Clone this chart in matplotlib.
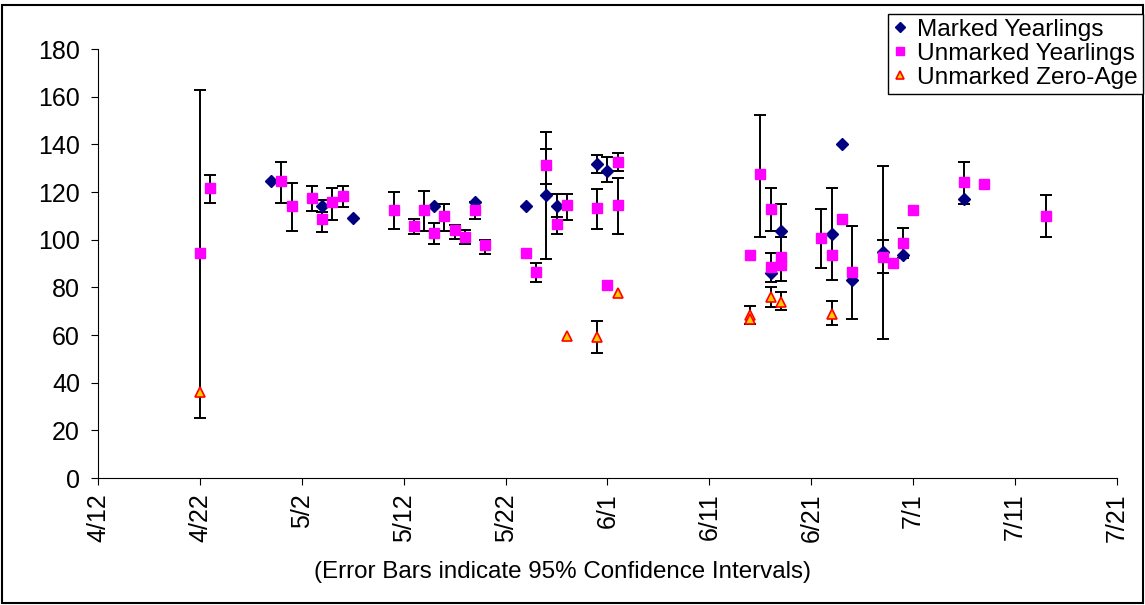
import numpy as np
import pandas as pd
import matplotlib
matplotlib.use("Agg")
import matplotlib.pyplot as plt
from matplotlib.patches import Rectangle

nan = np.nan

# Marked Yearlings
marked_dates = ['4/29', '5/4', '5/7', '5/15', '5/19', '5/24', '5/26', '5/27', '5/31', '6/1',
                '6/17', '6/18', '6/23', '6/24', '6/25', '6/28', '6/30', '7/6']
marked_vals = [124.5, 114, 109, 114, 116, 114, 118.6, 114, 131.6, 129,
               86, 103.6, 102.4, 140, 83, 95, 93.6, 117]
marked_lo = [nan, 111.5, nan, nan, nan, nan, 92, 109.7, 128, 124,
             82.4, 101, 83, nan, 66.7, 58.2, nan, nan]
marked_hi = [nan, 116.5, nan, nan, nan, nan, 138, 119.2, 135.5, 134.6,
             94.5, 114.8, 121.8, nan, 105.6, 130.9, nan, nan]

# Unmarked Yearlings
unmarked_dates = ['4/22', '4/23', '4/30', '5/1', '5/3', '5/4', '5/5', '5/6', '5/11', '5/13',
                  '5/14', '5/15', '5/16', '5/17', '5/18', '5/19', '5/20', '5/24', '5/25', '5/26',
                  '5/27', '5/28', '5/31', '6/1', '6/2', '6/2', '6/15', '6/16', '6/17', '6/17',
                  '6/18', '6/18', '6/22', '6/23', '6/24', '6/25', '6/28', '6/29', '6/30', '7/1',
                  '7/6', '7/8', '7/14']
unmarked_vals = [94.3, 121.6, 124.8, 114, 117.6, 108.6, 115.7, 118.3, 112.5, 105.9,
                 112.5, 102.9, 109.9, 104.1, 101.3, 112.5, 97.6, 94.3, 86.4, 131.3,
                 106.6, 114.4, 113.2, 80.9, 132.7, 114.4, 93.4, 127.4, 113, 88.4,
                 92.6, 89.4, 100.6, 93.5, 108.7, 86.4, 92.9, 90.4, 98.8, 112.5,
                 124.1, 123.5, 109.9]
unmarked_lo = [25, 115.4, 115.5, 103.8, 112.2, 103.1, 108.3, 113.6, 104.4, 102.4,
               103.8, 98.1, 103.8, 100.4, 98.1, 108.8, 94, nan, 82.2, 123.2,
               102.4, 108.3, 104.5, nan, 129, 102.4, nan, 101.3, 103.8, nan,
               82.8, nan, 88.3, nan, nan, nan, 86.2, nan, 92.2, nan,
               114.8, nan, 101]
unmarked_hi = [162.8, 127, 132.7, 123.7, 122.5, 111.5, 121.8, 122.7, 119.9, 108.7,
               120.4, 106.9, 114.8, 106.2, 104.2, 116, 99.9, nan, 90.1, 145.3,
               109.7, 119.2, 121.1, nan, 136.2, 125.8, nan, 152.3, 121.8, nan,
               101, nan, 112.8, nan, nan, nan, 99.9, nan, 105, nan,
               132.7, nan, 118.8]

# Unmarked Zero-Age
zero_dates = ['4/22', '5/28', '5/31', '6/2', '6/15', '6/15', '6/17', '6/18', '6/23']
zero_vals = [36.2, 59.6, 59.3, 77.5, 68.4, 66.6, 76.1, 74, 69]
zero_lo = [nan, nan, 52.3, nan, 64.5, nan, 71.9, 70.5, 64.2]
zero_hi = [nan, nan, 65.9, nan, 72.2, nan, 80.3, 77.9, 74.4]

tick_dates = ['4/12', '4/22', '5/2', '5/12', '5/22', '6/1', '6/11', '6/21', '7/1', '7/11', '7/21']


def to_dt(lst):
    return pd.to_datetime(['2004/' + s for s in lst], format='%Y/%m/%d')


plt.rcParams['font.family'] = ['Liberation Sans', 'DejaVu Sans']

fig = plt.figure(figsize=(11.45, 6.05), dpi=100)
ax = fig.add_axes([0.0856, 0.2099, 0.8899, 0.7091])


def draw_series(dates, vals, lo, hi, **kw):
    x = to_dt(dates)
    y = np.array(vals)
    lo = np.array(lo)
    hi = np.array(hi)
    ok = ~np.isnan(lo)
    ax.errorbar(x[ok], y[ok], yerr=[y[ok] - lo[ok], hi[ok] - y[ok]], fmt='none',
                ecolor='black', elinewidth=1.4, capsize=4.5, capthick=1.4, zorder=2)
    return ax.plot(x, y, linestyle='none', zorder=3, **kw)[0]


h1 = draw_series(marked_dates, marked_vals, marked_lo, marked_hi,
                 marker='D', markersize=6.5, color='#000080', markeredgecolor='#000080')
h2 = draw_series(unmarked_dates, unmarked_vals, unmarked_lo, unmarked_hi,
                 marker='s', markersize=7, color='#FF00FF', markeredgecolor='#FF00FF')
h3 = draw_series(zero_dates, zero_vals, zero_lo, zero_hi,
                 marker='^', markersize=7, markerfacecolor='#FFCC00',
                 markeredgecolor='#FF0000', markeredgewidth=1.2)

ticks = to_dt(tick_dates)
ax.set_xlim(ticks[0], ticks[-1])
ax.set_xticks(ticks)
ax.set_xticklabels(tick_dates, rotation=90, fontsize=18)
ax.set_ylim(0, 180)
ax.set_yticks(range(0, 181, 20))
ax.tick_params(axis='y', labelsize=18, length=5, direction='out', pad=8)
ax.tick_params(axis='x', length=5, direction='out', pad=6)
ax.spines['top'].set_visible(False)
ax.spines['right'].set_visible(False)

# caption sits centred on the chart area, not the plot area
fig.text(0.491, 0.054, '(Error Bars indicate 95% Confidence Intervals)', fontsize=17.4,
         ha='center', va='center')

leg = fig.legend([h1, h2, h3], ['Marked Yearlings', 'Unmarked Yearlings', 'Unmarked Zero-Age'],
                 loc='upper right', bbox_to_anchor=(0.998, 0.977), borderaxespad=0,
                 fontsize=17.6, markerscale=0.75, handlelength=0.6, handletextpad=0.4,
                 borderpad=0.2, labelspacing=0.08, fancybox=False,
                 edgecolor='black', framealpha=1)
leg.get_frame().set_linewidth(1.0)

# chart border
fig.patches.append(Rectangle((0.002, 0.003), 0.996, 0.989, transform=fig.transFigure,
                             fill=False, edgecolor='black', linewidth=1.5))

fig.savefig('out.png', dpi=100)
